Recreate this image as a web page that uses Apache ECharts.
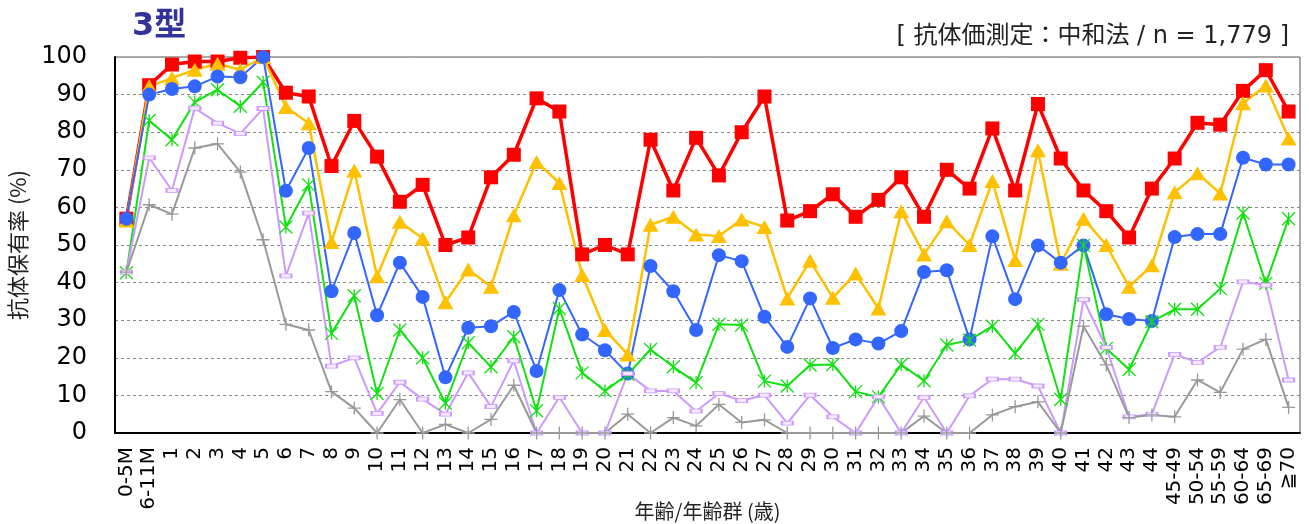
<!DOCTYPE html>
<html>
<head>
<meta charset="utf-8">
<title>3型 抗体保有率</title>
<script src="https://cdn.jsdelivr.net/npm/echarts@6/dist/echarts.min.js"></script>
<style>
  html, body { margin: 0; padding: 0; background: #fff; }
  #chart { width: 1309px; height: 524px; }
</style>
</head>
<body>
<div id="chart"></div>
<script>
// 年齢/年齢群
const ageGroups = ['0-5M', '6-11M',
  '1', '2', '3', '4', '5', '6', '7', '8', '9', '10',
  '11', '12', '13', '14', '15', '16', '17', '18', '19', '20',
  '21', '22', '23', '24', '25', '26', '27', '28', '29', '30',
  '31', '32', '33', '34', '35', '36', '37', '38', '39', '40',
  '41', '42', '43', '44', '45-49', '50-54', '55-59', '60-64', '65-69', '≧70']

const yTicks = [0, 10, 20, 30, 40, 50, 60, 70, 80, 90, 100]

// 抗体保有率 (%) — one array per titer level, highest line first
const redSquare = [57, 92.5, 98, 98.8, 98.8, 99.8, 100, 90.5, 89.5, 71, 83, 73.5, 61.5, 66, 50, 52, 68, 74, 89, 85.5,
  47.5, 50, 47.5, 78, 64.5, 78.5, 68.5, 80, 89.5, 56.5, 59, 63.5, 57.5, 62, 68, 57.5, 70, 65, 81, 64.5,
  87.5, 73, 64.5, 59, 52, 65, 73, 82.5, 82, 91, 96.5, 85.5]
const yellowTri = [56.5, 92.2, 94.4, 96.6, 98.2, 96.6, 100, 86.7, 82.4, 50.8, 69.8, 41.7, 56.2, 51.7, 34.8, 43.5, 38.9, 57.9, 72.1, 66.5,
  42, 27.4, 20.9, 55.4, 57.5, 52.8, 52.4, 56.8, 54.8, 35.8, 45.8, 36, 42.4, 33.1, 59, 47.5, 56.3, 50, 67, 46,
  75.2, 45, 57, 50, 38.9, 44.6, 64, 69.1, 63.7, 87.7, 92.4, 78.3]
const blueCircle = [57, 90, 91.5, 92.2, 94.8, 94.6, 100, 64.4, 75.8, 37.7, 53.2, 31.3, 45.3, 36.2, 14.8, 28, 28.4, 32.2, 16.5, 38,
  26.2, 22, 15.8, 44.4, 37.7, 27.4, 47.3, 45.7, 30.9, 22.9, 35.8, 22.6, 24.9, 23.8, 27.1, 42.8, 43.3, 24.9, 52.3, 35.6,
  49.9, 45.3, 49.9, 31.6, 30.3, 29.8, 52.1, 52.9, 52.9, 73.2, 71.4, 71.4]
const greenStar = [42.6, 83.1, 78, 88, 91.3, 86.9, 93.3, 54.8, 66, 26.5, 36.5, 10.5, 27.4, 20, 7.9, 24, 17.6, 25.6, 5.9, 33.1,
  16, 11.2, 15.6, 22.2, 17.6, 13.4, 28.9, 28.7, 13.8, 12.5, 18.1, 18.2, 11, 9.6, 18.2, 13.9, 23.4, 24.7, 28.4, 21.2,
  28.9, 8.9, 49.9, 22.5, 16.9, 29.6, 32.9, 32.9, 38.4, 58.5, 39.8, 57]
const lavenderBar = [42.8, 73.2, 64.5, 86.4, 82.4, 79.6, 86.3, 41.8, 58.5, 17.8, 20, 5.2, 13.5, 9, 5, 16, 7, 19.2, 0, 9.5,
  0, 0, 15.8, 11.2, 11.2, 5.8, 10.5, 8.6, 10.1, 2.6, 10.1, 4.3, 0, 9.6, 0, 9.5, 0, 9.9, 14.3, 14.3,
  12.5, 0, 35.5, 22.8, 4.3, 5, 20.9, 18.8, 22.8, 40.2, 39.3, 14.1]
const grayPlus = [42.8, 60.7, 58.2, 75.8, 76.9, 69.4, 51.4, 28.9, 27.4, 11, 6.6, 0, 8.9, 0, 2.3, 0, 3.6, 12.7, 0, 0,
  0, 0, 5, 0, 4.1, 1.9, 7.6, 2.8, 3.5, 0, 0, 0, 0, 0, 0, 4.5, 0, 0, 4.8, 7,
  8.3, 0, 28.4, 18.1, 4.1, 4.8, 4.3, 14.1, 10.8, 22.3, 24.9, 6.8]

const latinFont = '"DejaVu Sans", Verdana, "Noto Sans CJK JP", sans-serif'
const jpFont = '"Noto Sans CJK JP", "DejaVu Sans", sans-serif'

// asterisk and plus markers are open paths, drawn with the border stroke
const starPath = 'path://M0,0L10,10M10,0L0,10M5,0L5,10'
const plusPath = 'path://M5,0L5,10M0,5L10,5'

function lineSeries(name, data, color, width, symbol, size, item) {
  return {
    name: name,
    type: 'line',
    data: data,
    symbol: symbol,
    symbolSize: size,
    showAllSymbol: true,
    lineStyle: { color: color, width: width },
    itemStyle: Object.assign({ color: color }, item || {}),
    emphasis: { disabled: true },
    animation: false,
  }
}

const chart = echarts.init(document.getElementById('chart'))

chart.setOption({
  animation: false,
  title: [
    {
      text: '3型',
      left: 127,
      top: 6,
      textStyle: { fontFamily: latinFont, fontSize: 32, fontWeight: 'bold', color: '#333399' },
    },
    {
      text: '[ 抗体価測定：中和法 / n = 1,779 ]',
      right: 15,
      top: 20,
      textStyle: { fontFamily: latinFont, fontSize: 24, fontWeight: 'normal', color: '#222' },
    },
  ],
  grid: {
    left: 115,
    right: 9,
    top: 57,
    bottom: 91,
    containLabel: false,
    outerBoundsMode: 'none',
    show: true,
    borderColor: '#555',
    borderWidth: 1,
  },
  xAxis: {
    type: 'category',
    data: ageGroups,
    boundaryGap: true,
    name: '年齢/年齢群 (歳)',
    nameLocation: 'middle',
    nameGap: 68,
    nameMoveOverlap: false,
    nameTextStyle: { fontFamily: jpFont, fontSize: 20, color: '#222' },
    axisLine: { lineStyle: { color: '#000', width: 2 } },
    axisTick: { show: false },
    axisLabel: {
      interval: 0,
      rotate: 90,
      margin: 14,
      fontFamily: latinFont,
      fontSize: 20,
      color: '#000',
    },
    splitLine: { show: false },
  },
  yAxis: {
    type: 'value',
    min: yTicks[0],
    max: yTicks[yTicks.length - 1],
    interval: 10,
    name: '抗体保有率 (%)',
    nameLocation: 'middle',
    nameGap: 86,
    nameMoveOverlap: false,
    nameTextStyle: { fontFamily: jpFont, fontSize: 22, color: '#222' },
    axisLine: { show: true, lineStyle: { color: '#000', width: 2 } },
    axisTick: { show: false },
    axisLabel: { margin: 28, fontFamily: latinFont, fontSize: 24, color: '#000' },
    splitLine: {
      show: true,
      showMinLine: false,
      showMaxLine: false,
      lineStyle: { color: '#888', type: [3, 3], width: 1 },
    },
  },
  series: [
    lineSeries('≧1:4', redSquare, '#ff0000', 3.5, 'rect', 14),
    lineSeries('≧1:8', yellowTri, '#ffc000', 2.5, 'triangle', [16, 14]),
    lineSeries('≧1:16', blueCircle, '#3366ff', 2, 'circle', 14),
    lineSeries('≧1:32', greenStar, '#11e011', 2, starPath, 13,
      { color: 'rgba(0,0,0,0)', borderColor: '#11e011', borderWidth: 1.3 }),
    lineSeries('≧1:64', lavenderBar, '#cc99ff', 2, 'rect', [11, 4],
      { color: '#f3e8ff', borderColor: '#cc99ff', borderWidth: 1.3 }),
    lineSeries('≧1:128', grayPlus, '#999999', 2, plusPath, 13,
      { color: 'rgba(0,0,0,0)', borderColor: '#999999', borderWidth: 1.3 }),
  ],
})

window.addEventListener('resize', function () {
  chart && chart.resize()
})
</script>
</body>
</html>
